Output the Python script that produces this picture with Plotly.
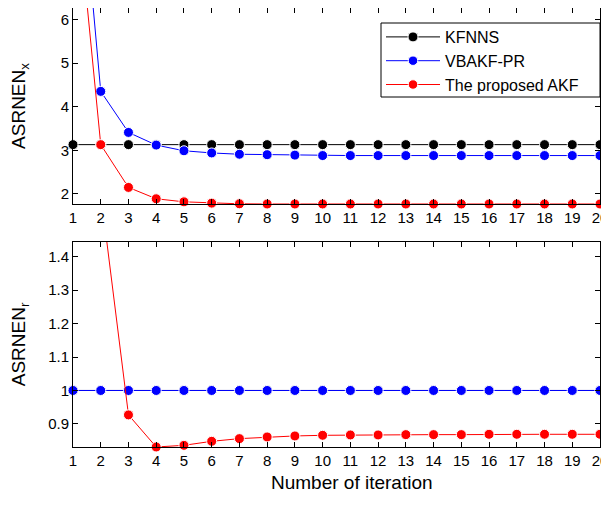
import plotly.graph_objects as go

iterations = list(range(1, 21))

# Top panel: ASRNEN_x
kfnns_x = [3.13] * 20
vbakf_x = [11.4, 4.35, 3.41, 3.12, 2.99, 2.94, 2.91, 2.90, 2.89, 2.88,
           2.88, 2.88, 2.88, 2.88, 2.88, 2.88, 2.88, 2.88, 2.88, 2.88]
akf_x = [9.65, 3.13, 2.15, 1.89, 1.82, 1.79, 1.775, 1.77, 1.77, 1.77,
         1.77, 1.77, 1.77, 1.77, 1.77, 1.77, 1.77, 1.77, 1.77, 1.77]

# Bottom panel: ASRNEN_r
kfnns_r = [1.0] * 20
vbakf_r = [1.0] * 20
akf_r = [2.3, 1.59, 0.927, 0.831, 0.836, 0.848, 0.856, 0.861, 0.864, 0.866,
         0.867, 0.867, 0.868, 0.868, 0.868, 0.869, 0.869, 0.869, 0.869, 0.869]

names = ["KFNNS", "VBAKF-PR", "The proposed AKF"]
colors = ["black", "blue", "red"]

top_range = [1.77, 6.26]
bot_range = [0.831, 1.444]

FONT = "Liberation Sans, Arial, sans-serif"


def sizes(vals, rng, s=10):
    return [s if rng[0] - 1e-9 <= v <= rng[1] + 1e-9 else 0 for v in vals]


fig = go.Figure()

for name, col, vals in zip(names, colors, [kfnns_x, vbakf_x, akf_x]):
    fig.add_trace(go.Scatter(
        x=iterations, y=vals, name=name, mode="lines+markers",
        line=dict(color=col, width=1),
        marker=dict(color=col, size=sizes(vals, top_range), opacity=1),
        cliponaxis=False, xaxis="x", yaxis="y", showlegend=True))

for name, col, vals in zip(names, colors, [kfnns_r, vbakf_r, akf_r]):
    fig.add_trace(go.Scatter(
        x=iterations, y=vals, name=name, mode="lines+markers",
        line=dict(color=col, width=1),
        marker=dict(color=col, size=sizes(vals, bot_range), opacity=1),
        cliponaxis=False, xaxis="x2", yaxis="y2", showlegend=False))

axis_common = dict(
    showgrid=False, zeroline=False, showline=True, linecolor="black",
    linewidth=1, mirror="allticks", ticks="inside", ticklen=5,
    tickcolor="black", automargin=False, ticklabeloverflow="allow",
    tickfont=dict(size=15, color="black", family=FONT),
)

PLOT_H = 439.0  # plot-area height in px (497 - 0 - 58)

fig.update_layout(
    width=601, height=497,
    margin=dict(l=65, r=9, t=0, b=58),
    paper_bgcolor="white", plot_bgcolor="white",
    font=dict(family=FONT, color="black"),
    xaxis=dict(domain=[0, 1], range=[1, 20], tickvals=iterations,
               anchor="y", **axis_common),
    yaxis=dict(domain=[0.5535, 1.0], range=top_range, tickvals=[2, 3, 4, 5, 6],
               anchor="x",
               title=dict(text="ASRNEN<sub>x</sub>", font=dict(size=19),
                          standoff=32),
               **axis_common),
    xaxis2=dict(domain=[0, 1], range=[1, 20], tickvals=iterations,
                anchor="y2", **axis_common),
    yaxis2=dict(domain=[0, 0.467], range=bot_range,
                tickvals=[0.9, 1.0, 1.1, 1.2, 1.3, 1.4],
                ticktext=["0.9", "1", "1.1", "1.2", "1.3", "1.4"],
                anchor="x2",
                title=dict(text="ASRNEN<sub>r</sub>", font=dict(size=19),
                           standoff=20),
                **axis_common),
    annotations=[dict(text="Number of iteration", xref="paper", yref="paper",
                      x=0.530, y=-36 / PLOT_H, xanchor="center",
                      yanchor="middle", showarrow=False,
                      font=dict(size=19, color="black"))],
    shapes=[dict(type="rect", xref="paper", yref="paper",
                 x0=308 / 527, x1=1.0,
                 y0=(439 - 89) / PLOT_H, y1=(439 - 15) / PLOT_H,
                 line=dict(color="black", width=1), fillcolor="white",
                 layer="above")],
    legend=dict(x=308 / 527, y=(439 - 12) / PLOT_H, xanchor="left",
                yanchor="top", bgcolor="rgba(0,0,0,0)", borderwidth=0,
                font=dict(size=16, color="black", family=FONT),
                itemwidth=54),
    showlegend=True,
)

fig.write_html("out.html")
